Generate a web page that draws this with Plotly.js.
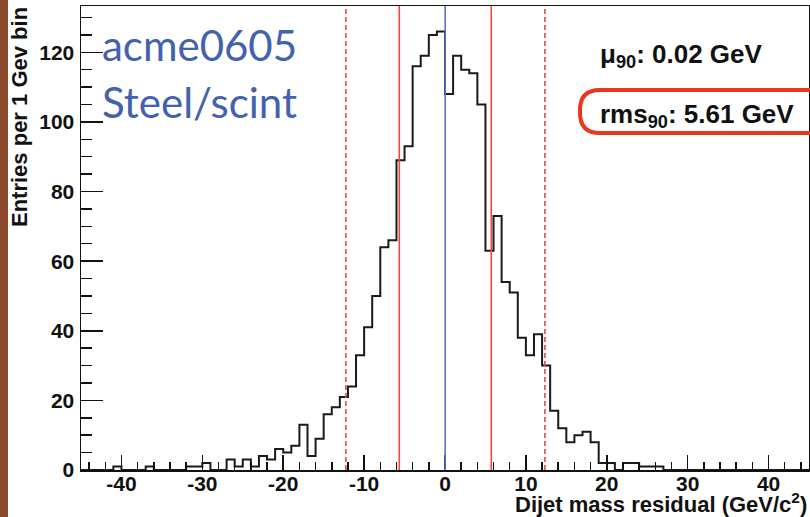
<!DOCTYPE html>
<html>
<head>
<meta charset="utf-8">
<script src="https://cdn.plot.ly/plotly-3.0.1.min.js"></script>
<style>
html, body { margin: 0; padding: 0; background: #ffffff; }
#chart { width: 810px; height: 517px; }
</style>
</head>
<body>
<div id="chart"></div>
<script>
// ---- data ----
const binLowEdges = [
  -45,-44,-43,-42,-41,-40,-39,-38,-37,-36,
  -35,-34,-33,-32,-31,-30,-29,-28,-27,-26,
  -25,-24,-23,-22,-21,-20,-19,-18,-17,-16,
  -15,-14,-13,-12,-11,-10,-9,-8,-7,-6,
  -5,-4,-3,-2,-1,0,1,2,3,4,
  5,6,7,8,9,10,11,12,13,14,
  15,16,17,18,19,20,21,22,23,24,
  25,26,27,28,29,30,31,32,33,34,
  35,36,37,38,39,40,41,42,43,44
];
const histUpperEdge = 45;
const binCounts = [
  0,0,0,0,1,0,0,0,1,0,
  0,0,0,1,1,2,0,0,3,1,
  3,1,4,3,6,5,7,13,4,9,
  16,18,21,24,33,41,50,64,66,89,
  93,116,119,125,126,108,119,115,114,105,
  63,73,54,51,38,33,39,30,17,12,
  8,10,11,8,2,2,0,2,2,1,
  1,1,0,0,0,0,0,0,0,0,
  0,0,0,0,0,0,0,0,0,0
];
const meanLine = [0.02];          // mu90
const rmsLines = [-5.65, 5.72];   // solid red
const wideLines = [-12.25, 12.35]; // dashed red
const xTickVals = [-40, -30, -20, -10, 0, 10, 20, 30, 40];
const yTickVals = [0, 20, 40, 60, 80, 100, 120];
const labelLine1 = 'acme0605';
const labelLine2 = 'Steel/scint';
const statMu = '\u03bc<sub>90</sub>: 0.02 GeV';
const statRms = 'rms<sub>90</sub>: 5.61 GeV';
const yTitle = 'Entries per 1 Gev bin';
const xTitle = 'Dijet mass residual (GeV/c<sup>2</sup>)';

// ---- layout geometry ----
const W = 810, H = 517;
const M = { l: 81, r: 1, t: 6, b: 47 };
const plotW = W - M.l - M.r, plotH = H - M.t - M.b;
const px = x => (x - M.l) / plotW;
const py = y => (H - M.b - y) / plotH;

const boldFont = 'Liberation Sans, Arial, Helvetica, sans-serif';

const histX = binLowEdges.concat([histUpperEdge]);
const histY = binCounts.concat([binCounts[binCounts.length - 1]]);

const traces = [{
  type: 'scatter', mode: 'lines', x: histX, y: histY,
  line: { shape: 'hv', color: '#1a1a1a', width: 2 },
  hoverinfo: 'skip'
}];

const shapes = [];
// brown strip at left edge
shapes.push({ type: 'rect', xref: 'paper', yref: 'paper', layer: 'below',
  x0: px(-2), x1: px(8), y0: py(H + 2), y1: py(-2),
  fillcolor: '#8b4a2b', line: { width: 0 } });
meanLine.forEach(v => shapes.push({ type: 'line', xref: 'x', yref: 'paper', x0: v, x1: v, y0: 0, y1: 1,
  line: { color: '#5a74c4', width: 1.6 } }));
rmsLines.forEach(v => shapes.push({ type: 'line', xref: 'x', yref: 'paper', x0: v, x1: v, y0: 0, y1: 1,
  line: { color: '#f0463f', width: 1.6 } }));
wideLines.forEach(v => shapes.push({ type: 'line', xref: 'x', yref: 'paper', x0: v, x1: v, y0: 0, y1: 1,
  line: { color: '#f0463f', width: 1.6, dash: '5px,3px' } }));

// rounded (stadium) box around rms
function roundedPath(x0, y0, x1, y1, r) {
  const P = (x, y) => px(x) + ',' + py(y);
  return 'M' + P(x0 + r, y0) + ' L' + P(x1 - r, y0) + ' Q' + P(x1, y0) + ' ' + P(x1, y0 + r) +
         ' L' + P(x1, y1 - r) + ' Q' + P(x1, y1) + ' ' + P(x1 - r, y1) +
         ' L' + P(x0 + r, y1) + ' Q' + P(x0, y1) + ' ' + P(x0, y1 - r) +
         ' L' + P(x0, y0 + r) + ' Q' + P(x0, y0) + ' ' + P(x0 + r, y0) + ' Z';
}
shapes.push({ type: 'path', xref: 'paper', yref: 'paper', path: roundedPath(580, 90, 830, 133, 20),
  line: { color: '#e8361f', width: 4 } });

const annotations = [
  { text: labelLine1, xref: 'paper', yref: 'paper', x: px(100), y: py(45), xanchor: 'left', yanchor: 'middle',
    showarrow: false, font: { family: 'Lato, Noto Sans, sans-serif', size: 42, color: '#4262b0' } },
  { text: labelLine2, xref: 'paper', yref: 'paper', x: px(100), y: py(102), xanchor: 'left', yanchor: 'middle',
    showarrow: false, font: { family: 'Lato, Noto Sans, sans-serif', size: 42, color: '#4262b0' } },
  { text: statMu, xref: 'paper', yref: 'paper', x: px(598), y: py(56), xanchor: 'left', yanchor: 'middle',
    showarrow: false, font: { family: boldFont, size: 26, color: '#111', weight: 'bold' } },
  { text: statRms, xref: 'paper', yref: 'paper', x: px(598), y: py(116), xanchor: 'left', yanchor: 'middle',
    showarrow: false, font: { family: boldFont, size: 26, color: '#111', weight: 'bold' } },
  { text: yTitle, xref: 'paper', yref: 'paper', x: px(19), y: py(117), xanchor: 'center', yanchor: 'middle',
    textangle: -90, showarrow: false, font: { family: boldFont, size: 22, color: '#111', weight: 'bold' } },
  { text: xTitle, xref: 'paper', yref: 'paper', x: px(809), y: py(503), xanchor: 'right', yanchor: 'middle',
    showarrow: false, font: { family: boldFont, size: 22, color: '#111', weight: 'bold' } }
];

const tickFont = { family: boldFont, size: 21, color: '#111', weight: 'bold' };

const layout = {
  width: W, height: H, margin: M,
  paper_bgcolor: '#ffffff', plot_bgcolor: '#ffffff',
  showlegend: false,
  xaxis: {
    range: [-45, 45], tickvals: xTickVals, ticktext: xTickVals.map(String),
    ticks: 'inside', ticklen: 15, tickwidth: 1.5, tickcolor: '#111',
    minor: { dtick: 2, tick0: 0, ticks: 'inside', ticklen: 8, tickwidth: 1.5, tickcolor: '#111', showgrid: false },
    showline: true, mirror: true, linecolor: '#111', linewidth: 1.5,
    showgrid: false, zeroline: false, tickfont: tickFont, ticklabelstandoff: -6
  },
  yaxis: {
    range: [0, 133.3], tickvals: yTickVals, ticktext: yTickVals.map(String),
    ticks: 'inside', ticklen: 22, tickwidth: 1.5, tickcolor: '#111',
    minor: { dtick: 5, tick0: 0, ticks: 'inside', ticklen: 11, tickwidth: 1.5, tickcolor: '#111', showgrid: false },
    showline: true, mirror: true, linecolor: '#111', linewidth: 1.5,
    showgrid: false, zeroline: false, tickfont: tickFont, ticklabelstandoff: 1
  },
  shapes: shapes,
  annotations: annotations
};

Plotly.newPlot('chart', traces, layout, { staticPlot: true, displayModeBar: false });
</script>
</body>
</html>
